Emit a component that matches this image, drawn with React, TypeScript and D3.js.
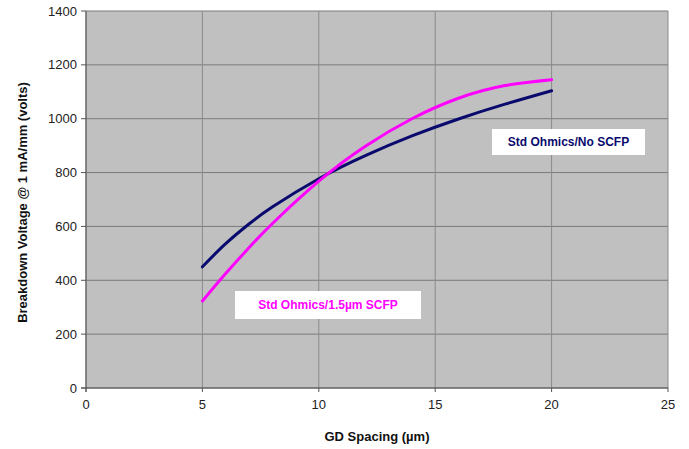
import React from "react";
import * as d3 from "d3";

const xTicks = [0, 5, 10, 15, 20, 25];
const yTicks = [0, 200, 400, 600, 800, 1000, 1200, 1400];
const gdNo = [5, 6, 7, 8, 10, 12, 14, 16, 18, 20];
const noScfp = [450, 536, 609, 672, 777, 863, 936, 999, 1054, 1104];
const gd15 = [5, 6, 7, 8, 10, 12, 14, 16, 18, 20];
const scfp15 = [323, 425, 521, 610, 768, 898, 1000, 1076, 1123, 1145];
const seriesNames = ["Std Ohmics/No SCFP", "Std Ohmics/1.5\u00b5m SCFP"];
const seriesColors = ["#0a0a6e", "#ff00ff"];

export default function App() {
  const W = 689, H = 449;
  const left = 86, right = 668, top = 11, bottom = 388;
  const x = d3.scaleLinear().domain([0, 25]).range([left, right]);
  const y = d3.scaleLinear().domain([0, 1400]).range([bottom, top]);
  const mk = (xs: number[]) =>
    d3
      .line<number>()
      .x((_, i) => x(xs[i]))
      .y((d) => y(d))
      .curve(d3.curveNatural);
  const font = "Arial, 'Liberation Sans', sans-serif";
  return (
    <svg width={W} height={H} style={{ position: "absolute", left: 0, top: 0 }} fontFamily={font}>
      <rect x={0} y={0} width={W} height={H} fill="#fff" />
      <rect x={left} y={top} width={right - left} height={bottom - top} fill="#c0c0c0" />
      {yTicks.map((t) => (
        <line key={"gy" + t} x1={left} x2={right} y1={y(t)} y2={y(t)} stroke="#7a7a7a" strokeWidth={1} />
      ))}
      {xTicks.map((t) => (
        <line key={"gx" + t} x1={x(t)} x2={x(t)} y1={top} y2={bottom} stroke="#8a8a8a" strokeWidth={1} />
      ))}
      <line x1={left} x2={left} y1={top} y2={bottom + 4} stroke="#555" strokeWidth={1} />
      <line x1={left - 5} x2={right} y1={bottom} y2={bottom} stroke="#555" strokeWidth={1} />
      {yTicks.map((t) => (
        <g key={"ty" + t}>
          <line x1={left - 5} x2={left} y1={y(t)} y2={y(t)} stroke="#555" />
          <text x={left - 9} y={y(t)} dy="0.35em" textAnchor="end" fontSize={13} fill="#222">
            {t}
          </text>
        </g>
      ))}
      {xTicks.map((t) => (
        <g key={"tx" + t}>
          <line x1={x(t)} x2={x(t)} y1={bottom} y2={bottom + 4} stroke="#555" />
          <text x={x(t)} y={bottom + 21} textAnchor="middle" fontSize={13} fill="#222">
            {t}
          </text>
        </g>
      ))}
      <path d={mk(gdNo)(noScfp) || ""} fill="none" stroke={seriesColors[0]} strokeWidth={3} strokeLinecap="round" />
      <path d={mk(gd15)(scfp15) || ""} fill="none" stroke={seriesColors[1]} strokeWidth={3} strokeLinecap="round" />
      <rect x={492} y={129} width={153} height={26} fill="#fff" />
      <text x={568.5} y={142} dy="0.35em" textAnchor="middle" fontSize={12} fontWeight="bold" fill={seriesColors[0]}>
        {seriesNames[0]}
      </text>
      <rect x={235} y={291} width={186} height={28} fill="#fff" />
      <text x={328} y={305} dy="0.35em" textAnchor="middle" fontSize={12} fontWeight="bold" fill={seriesColors[1]}>
        {seriesNames[1]}
      </text>
      <text x={377} y={441} textAnchor="middle" fontSize={13} fontWeight="bold" fill="#111">
        GD Spacing (µm)
      </text>
      <text
        transform={`translate(27,${(top + bottom) / 2 + 3}) rotate(-90)`}
        textAnchor="middle"
        fontSize={13}
        fontWeight="bold"
        fill="#111"
      >
        Breakdown Voltage @ 1 mA/mm (volts)
      </text>
    </svg>
  );
}
